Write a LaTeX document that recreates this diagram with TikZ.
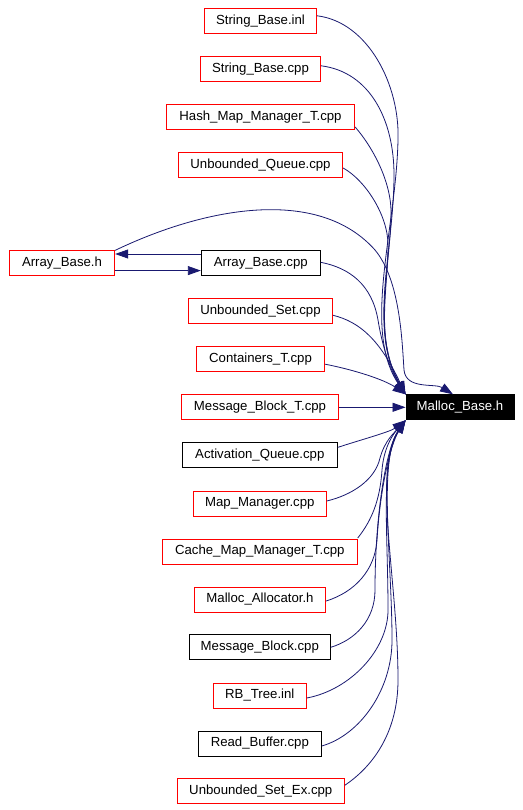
\documentclass[tikz,border=0pt]{standalone}
\usepackage{fontspec}
\setmainfont{Liberation Sans}
\usetikzlibrary{calc,arrows.meta}
\definecolor{edgeblue}{RGB}{25,25,112}
\begin{document}
\begin{tikzpicture}[x=1pt,y=-1pt,
  filebox/.style={draw=red,line width=0.9pt,rectangle,minimum height=25pt,inner sep=0pt,font=\fontsize{13.2}{15}\selectfont},
  blackbox/.style={filebox,draw=black},
  mainbox/.style={filebox,draw=black,fill=black,text=white},
  dep/.style={draw=edgeblue,line width=0.8pt,-{Triangle[length=13pt,width=9pt]}}]
\useasboundingbox (0,0) rectangle (522,810);
\fill[white] (0,0) rectangle (522,810);

\node[filebox,minimum width=112.4pt] (sbinl) at (260.5,20.8) {String\_Base.inl};
\node[filebox,minimum width=120.4pt] (sbcpp) at (260.5,68.8) {String\_Base.cpp};
\node[filebox,minimum width=188.4pt] (hmm) at (260.5,117) {Hash\_Map\_Manager\_T.cpp};
\node[filebox,minimum width=164.4pt] (uq) at (260.5,165) {Unbounded\_Queue.cpp};
\node[filebox,minimum width=105.4pt] (abh) at (62,263.3) {Array\_Base.h};
\node[blackbox,minimum width=119pt] (abcpp) at (260.8,263.3) {Array\_Base.cpp};
\node[filebox,minimum width=144.4pt] (us) at (260.5,311.3) {Unbounded\_Set.cpp};
\node[filebox,minimum width=128.4pt] (ct) at (260.5,359.2) {Containers\_T.cpp};
\node[filebox,minimum width=157.4pt] (mbt) at (260,407.3) {Message\_Block\_T.cpp};
\node[blackbox,minimum width=155pt] (aq) at (259.8,455.4) {Activation\_Queue.cpp};
\node[filebox,minimum width=133pt] (mm) at (259.8,503.5) {Map\_Manager.cpp};
\node[filebox,minimum width=195pt] (cmm) at (259.8,551.5) {Cache\_Map\_Manager\_T.cpp};
\node[filebox,minimum width=131.4pt] (ma) at (260,599.5) {Malloc\_Allocator.h};
\node[blackbox,minimum width=141pt] (mblk) at (259.8,647.3) {Message\_Block.cpp};
\node[filebox,minimum width=93pt] (rb) at (259.8,695.5) {RB\_Tree.inl};
\node[blackbox,minimum width=123pt] (rbuf) at (259.8,743.5) {Read\_Buffer.cpp};
\node[filebox,minimum width=167pt] (usx) at (260.8,791.3) {Unbounded\_Set\_Ex.cpp};
\node[mainbox,minimum width=108pt] (mal) at (460,407.3) {Malloc\_Base.h};

% upper bundle
\draw[dep] ($(sbinl.east)+(0,-5)$) .. controls (368,22) and (400,85) .. (398,140) .. controls (396,230) and (362,330) .. (mal.north west);
\draw[dep] ($(sbcpp.east)+(0,-3)$) .. controls (370,72) and (394,120) .. (394,175) .. controls (394,250) and (368,330) .. (mal.north west);
\draw[dep] ($(hmm.east)+(0,10)$) .. controls (375,150) and (392,185) .. (391,215) .. controls (390,270) and (372,335) .. (mal.north west);
\draw[dep] ($(uq.east)+(0,3)$) .. controls (365,180) and (388,215) .. (388,245) .. controls (388,290) and (375,340) .. (mal.north west);
\draw[dep] ($(abcpp.east)+(0,-1)$) .. controls (350,268) and (372,285) .. (378,320) .. controls (382,345) and (390,370) .. (mal.north west);
\draw[dep] ($(us.east)+(0,4)$) .. controls (360,322) and (380,340) .. (mal.north west);
\draw[dep] ($(ct.east)+(0,5)$) .. controls (355,370) and (385,380) .. (mal.north west);
\draw[dep] (mbt.east) -- (mal.west);

% lower bundle
\draw[dep] ($(aq.east)+(0,-8)$) .. controls (360,440) and (390,432) .. (mal.south west);
\draw[dep] ($(mm.east)+(0,-2.5)$) .. controls (352,495) and (375,480) .. (380,458) .. controls (385,440) and (395,432) .. (mal.south west);
\draw[dep] ($(cmm.east)+(0,-13.5)$) .. controls (372,520) and (380,500) .. (382,470) .. controls (384,445) and (395,432) .. (mal.south west);
\draw[dep] ($(ma.east)+(0,1.5)$) .. controls (355,592) and (375,570) .. (377,540) .. controls (380,490) and (390,445) .. (mal.south west);
\draw[dep] (mblk.east) .. controls (355,640) and (375,620) .. (375,590) .. controls (375,520) and (385,450) .. (mal.south west);
\draw[dep] ($(rb.east)+(0,2.5)$) .. controls (350,690) and (388,650) .. (388,610) .. controls (388,530) and (380,460) .. (mal.south west);
\draw[dep] ($(rbuf.east)+(0,2.5)$) .. controls (360,735) and (392,690) .. (392,640) .. controls (392,560) and (378,460) .. (mal.south west);
\draw[dep] ($(usx.east)+(0,-6)$) .. controls (375,765) and (398,730) .. (398,680) .. controls (398,580) and (372,470) .. (mal.south west);

% Array_Base
\draw[dep] (abh.north east) .. controls (210,205) and (320,188) .. (375,250) .. controls (400,280) and (402,340) .. (404,370) .. controls (406,390) and (435,383) .. ($(mal.north)+(-7,0)$);
\draw[dep] ($(abcpp.west)+(0,-9.3)$) -- ($(abh.east)+(0,-9.3)$);
\draw[dep] ($(abh.east)+(0,7.3)$) -- ($(abcpp.west)+(0,7.3)$);
\end{tikzpicture}
\end{document}
